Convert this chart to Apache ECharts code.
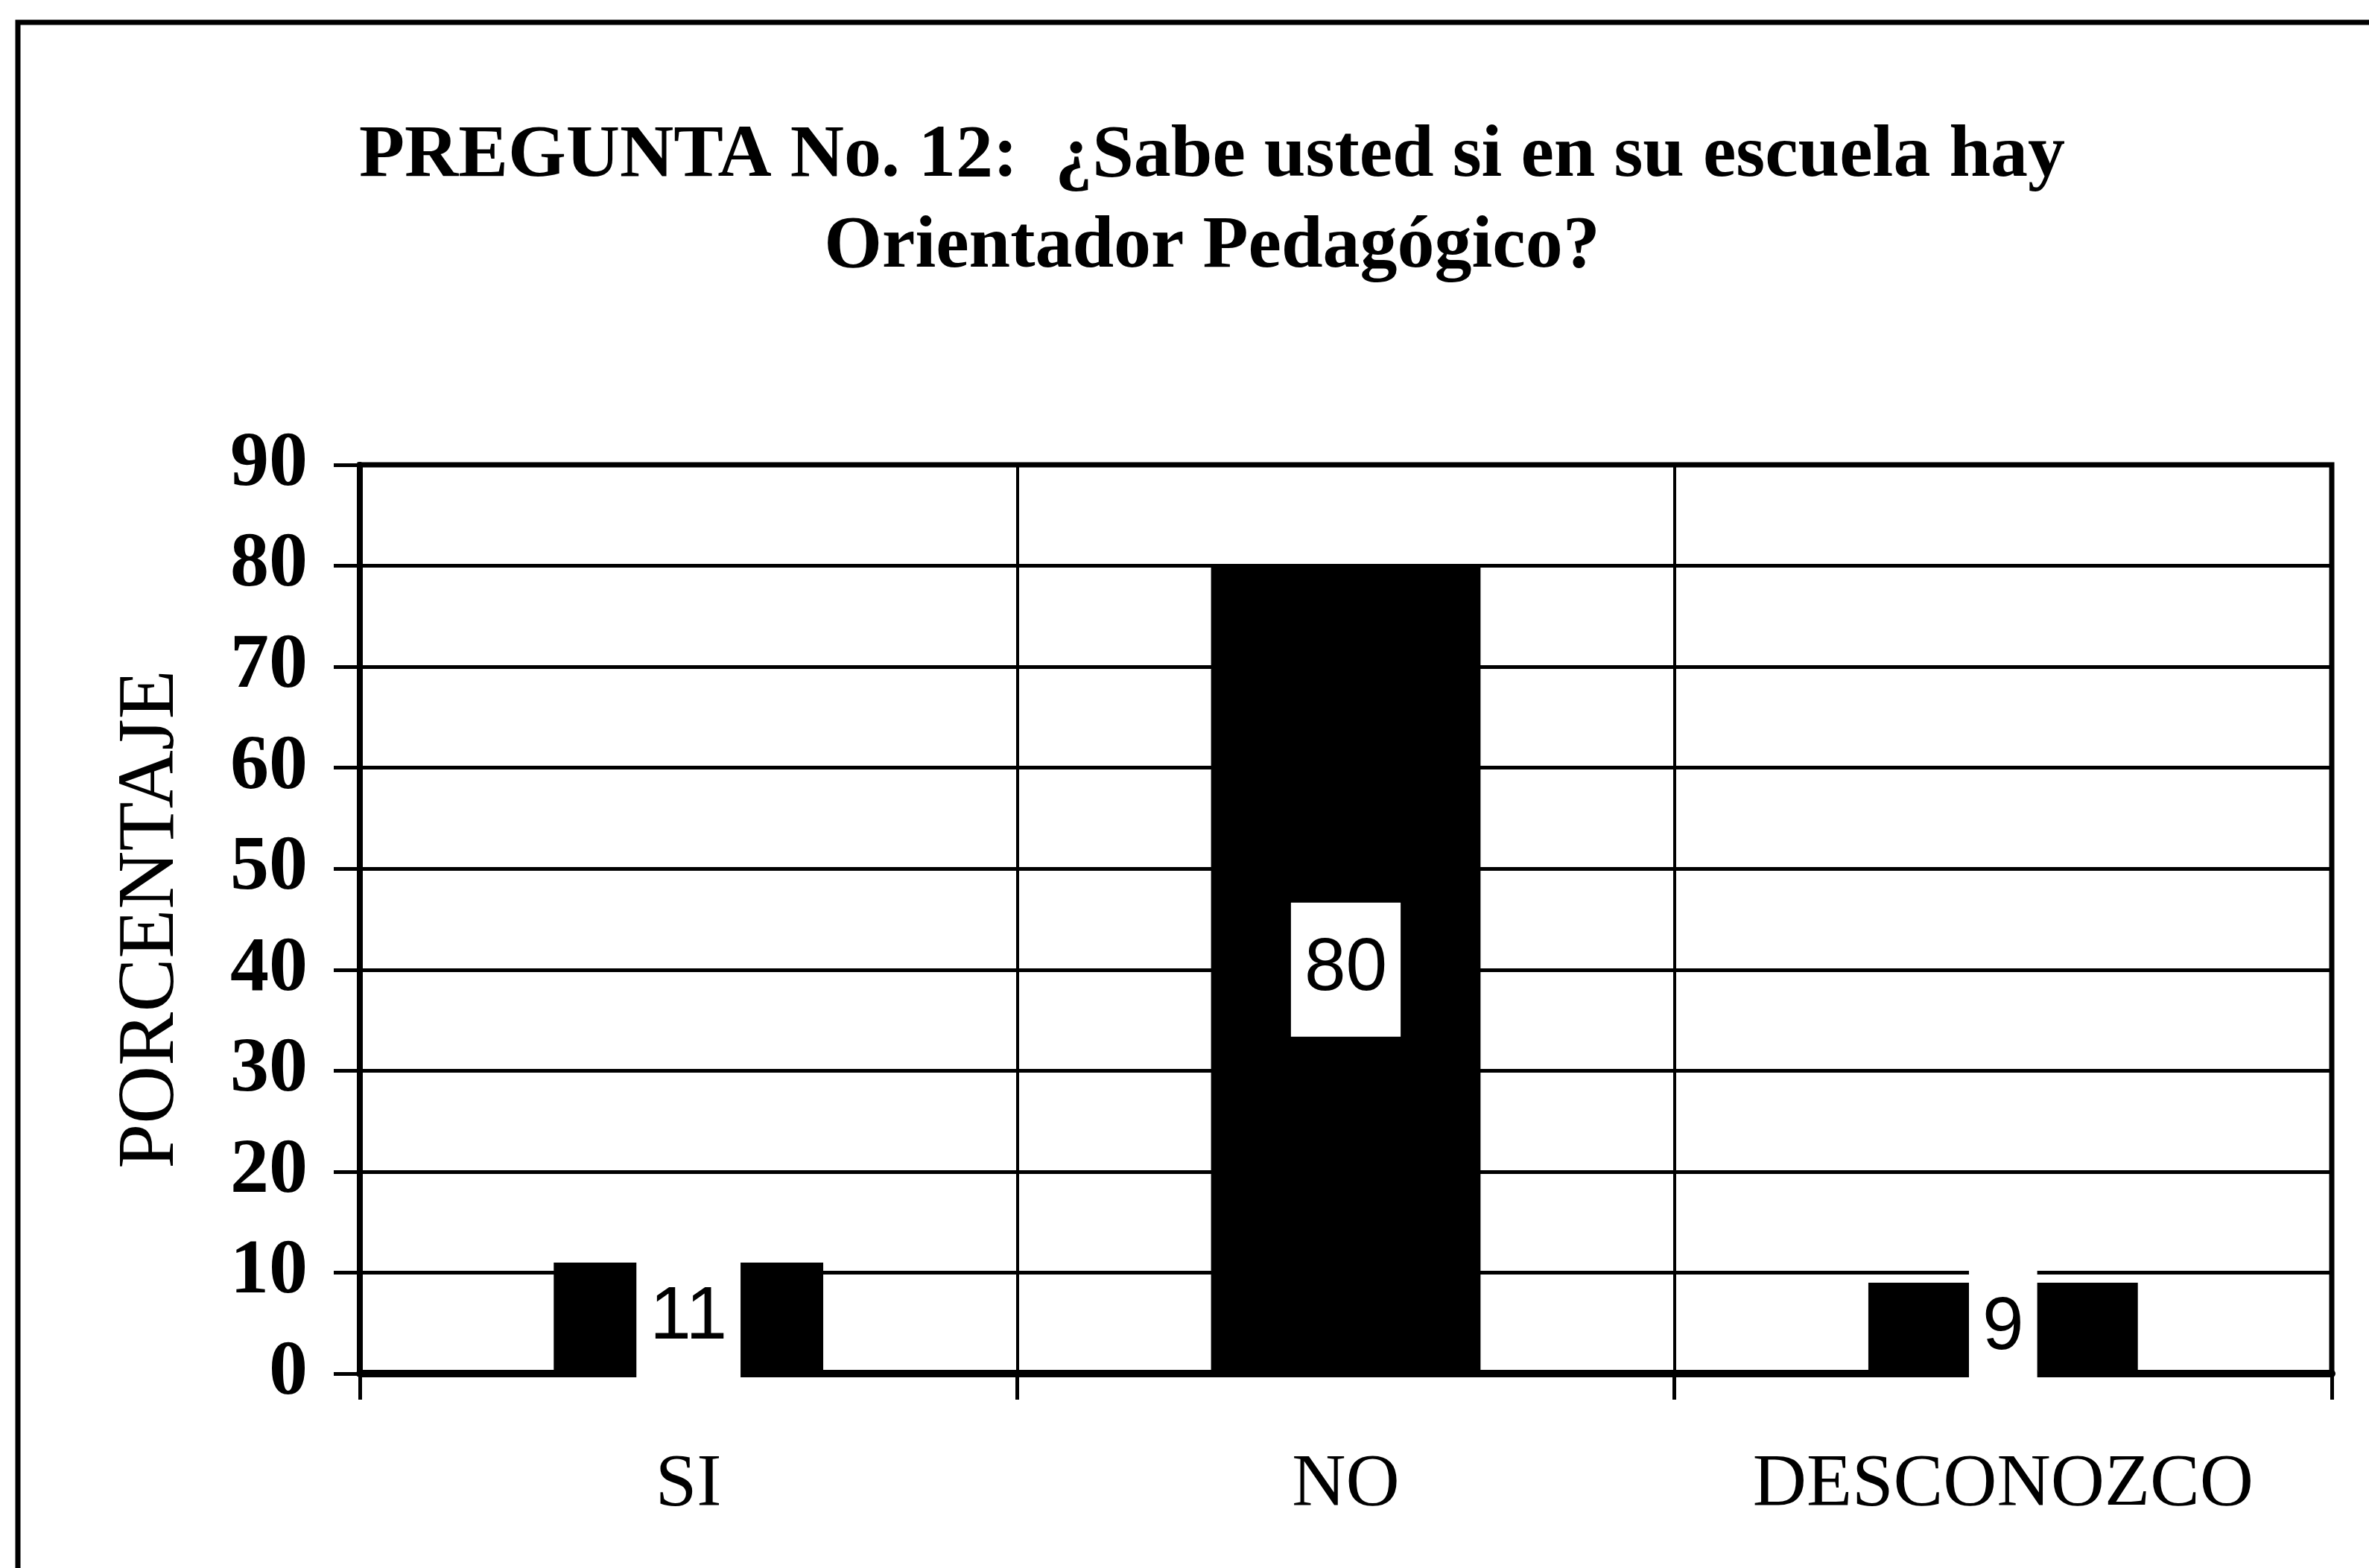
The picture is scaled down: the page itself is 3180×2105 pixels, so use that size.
<!DOCTYPE html>
<html>
<head>
<meta charset="utf-8">
<script src="https://cdn.jsdelivr.net/npm/echarts@6/dist/echarts.min.js"></script>
<style>
  html, body { margin: 0; padding: 0; background: #fff; }
  #echart { width: 3180px; height: 2105px; }
</style>
</head>
<body>
<div id="echart"></div>
<script>
// datos de la gráfica
var categorias = ['SI', 'NO', 'DESCONOZCO'];
var porcentajes = [11, 80, 9];
var tituloLineas = ['PREGUNTA No. 12:  ¿Sabe usted si en su escuela hay', 'Orientador Pedagógico?'];
var nombreEjeY = 'PORCENTAJE';

var myChart = echarts.init(document.getElementById('echart'));

var option = {
    backgroundColor: '#fff',
    animation: false,
    title: {
        text: tituloLineas.join('\n'),
        left: 1622,
        top: 144,
        textAlign: 'center',
        textStyle: {
            fontFamily: 'Liberation Serif',
            fontWeight: 'bold',
            fontSize: 100,
            lineHeight: 122,
            color: '#000'
        }
    },
    graphic: [{
        type: 'rect',
        shape: { x: 24, y: 30, width: 3220, height: 2200 },
        style: { fill: 'none', stroke: '#000', lineWidth: 7 },
        silent: true
    }],
    grid: {
        left: 483,
        right: 50,
        top: 624,
        bottom: 261,
        show: true,
        borderColor: '#000',
        borderWidth: 7,
        backgroundColor: 'transparent'
    },
    xAxis: {
        type: 'category',
        data: categorias,
        axisLine: { lineStyle: { color: '#000', width: 10 } },
        axisTick: { show: true, length: 35, lineStyle: { color: '#000', width: 5 } },
        splitLine: { show: true, interval: 0, lineStyle: { color: '#000', width: 4 } },
        axisLabel: {
            interval: 0,
            margin: 100,
            color: '#000',
            fontFamily: 'Liberation Serif',
            fontSize: 100
        }
    },
    yAxis: {
        type: 'value',
        min: 0,
        max: 90,
        interval: 10,
        name: nombreEjeY,
        nameLocation: 'middle',
        nameRotate: 90,
        nameGap: 225,
        nameTextStyle: {
            fontFamily: 'Liberation Serif',
            fontSize: 108,
            color: '#000'
        },
        axisLine: { show: true, lineStyle: { color: '#000', width: 8 } },
        axisTick: { show: true, length: 35, lineStyle: { color: '#000', width: 5 } },
        splitLine: { show: true, lineStyle: { color: '#000', width: 5 } },
        axisLabel: {
            margin: 70,
            color: '#000',
            fontFamily: 'Liberation Serif',
            fontWeight: 'bold',
            fontSize: 104
        }
    },
    series: [{
        name: nombreEjeY,
        type: 'bar',
        data: porcentajes,
        barWidth: '41%',
        itemStyle: { color: '#000' },
        label: {
            show: true,
            position: 'inside',
            color: '#000',
            backgroundColor: '#fff',
            padding: [30, 18, 50, 18],
            fontFamily: 'Liberation Sans Narrow, Liberation Sans',
            fontSize: 100
        }
    }]
};

myChart.setOption(option);
</script>
</body>
</html>
